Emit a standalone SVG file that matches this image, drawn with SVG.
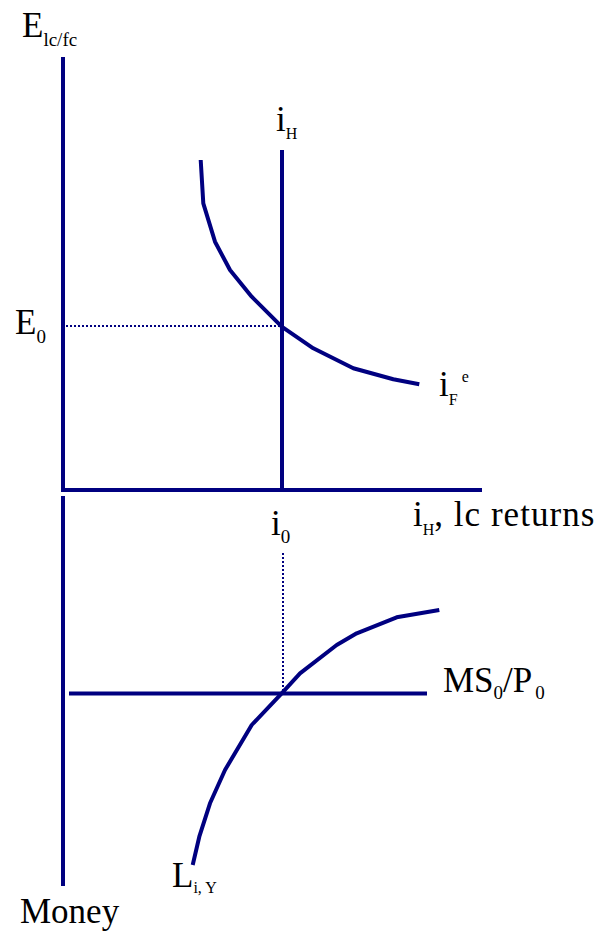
<svg xmlns="http://www.w3.org/2000/svg" width="600" height="936" viewBox="0 0 600 936">
<style>
.ax{stroke:#000080;stroke-width:4;fill:none}
.cv{stroke:#000080;stroke-width:4;fill:none;stroke-linejoin:round}
.dt{stroke:#000080;stroke-width:2;stroke-dasharray:2,2;fill:none}
text{font-family:"Liberation Serif","Times New Roman",serif;fill:#000;font-size:35px}
.s{font-size:16px}
.s2{font-size:19px}
</style>
<rect width="600" height="936" fill="#fff"/>
<g id="connectors">
<line class="ax" x1="63" y1="57" x2="63" y2="492"/>
<line class="ax" x1="61" y1="490" x2="482" y2="490"/>
<line class="ax" x1="63" y1="496" x2="63" y2="886"/>
<line class="ax" x1="282" y1="150" x2="282" y2="490"/>
<line class="ax" x1="69" y1="693.5" x2="427" y2="693.5"/>
<line class="dt" x1="66" y1="326" x2="282" y2="326"/>
<line class="dt" x1="283" y1="553" x2="283" y2="692"/>
</g>
<g id="curve-iFe">
<polyline class="cv" points="200.7,160 203.3,203.3 215,241.7 230,270 251.7,296.7 281.7,326.7 313.3,348.3 353.3,368.3 393.3,379.3 419.3,384.3"/>
</g>
<g id="curve-L">
<polyline class="cv" points="192.7,865 199.3,836.7 210,803.3 225,770 251.7,725 281.7,693.3 300,673.3 336.7,645 356.7,633.3 396.7,617.3 439.3,610"/>
</g>
<g id="label-E">
<text x="22" y="37">E<tspan class="s2" dy="9">lc/fc</tspan></text>
</g>
<g id="label-iH">
<text x="276" y="131">i<tspan class="s" dy="7.5">H</tspan></text>
</g>
<g id="label-E0">
<text x="15" y="334">E<tspan class="s2" dy="9">0</tspan></text>
</g>
<g id="label-iFe">
<text x="439" y="396">i<tspan class="s" dy="9">F</tspan><tspan class="s" dx="4" dy="-23">e</tspan></text>
</g>
<g id="label-xaxis">
<text x="413" y="526">i<tspan class="s" dy="9">H</tspan><tspan dy="-9" textLength="160">, lc returns</tspan></text>
</g>
<g id="label-i0">
<text x="271" y="535">i<tspan class="s2" dy="8">0</tspan></text>
</g>
<g id="label-MS">
<text x="443" y="692">MS<tspan class="s2" dy="7">0</tspan><tspan dy="-7">/P</tspan><tspan class="s2" dx="3" dy="7">0</tspan></text>
</g>
<g id="label-L">
<text x="172" y="887">L<tspan class="s" dy="6">i, Y</tspan></text>
</g>
<g id="label-money">
<text x="20" y="923">Money</text>
</g>
</svg>
